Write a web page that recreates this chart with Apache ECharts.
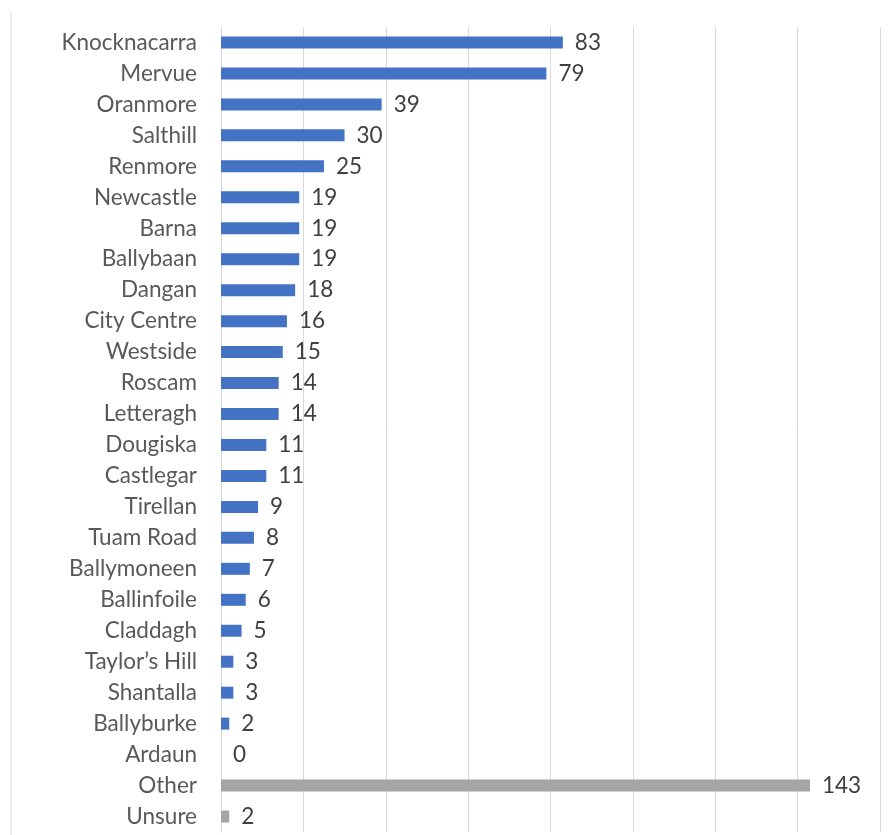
<!DOCTYPE html>
<html>
<head>
<meta charset="utf-8">
<script src="https://cdn.jsdelivr.net/npm/echarts@6/dist/echarts.min.js"></script>
<style>
  html, body { margin: 0; padding: 0; background: #ffffff; }
  #chart { width: 890px; height: 835px; }
</style>
</head>
<body>
<div id="chart"></div>
<script>
// Areas of Galway, in listed order (top to bottom)
const categories = [
  'Knocknacarra', 'Mervue', 'Oranmore', 'Salthill', 'Renmore', 'Newcastle',
  'Barna', 'Ballybaan', 'Dangan', 'City Centre', 'Westside', 'Roscam',
  'Letteragh', 'Dougiska', 'Castlegar', 'Tirellan', 'Tuam Road', 'Ballymoneen',
  'Ballinfoile', 'Claddagh', 'Taylor\u2019s Hill', 'Shantalla', 'Ballyburke',
  'Ardaun', 'Other', 'Unsure'
];
const counts = [
  83, 79, 39, 30, 25, 19,
  19, 19, 18, 16, 15, 14,
  14, 11, 11, 9, 8, 7,
  6, 5, 3, 3, 2,
  0, 143, 2
];
// Responses that are not a named area are shown in grey
const nonAreaCategories = ['Other', 'Unsure'];

const BLUE = '#4472C4';
const GREY = '#A5A5A5';

const seriesData = categories.map((name, i) => ({
  value: counts[i],
  itemStyle: { color: nonAreaCategories.includes(name) ? GREY : BLUE }
}));

const chart = echarts.init(document.getElementById('chart'), null, { renderer: 'canvas' });
chart.setOption({
  animation: false,
  backgroundColor: '#ffffff',
  grid: { left: 221, right: 10, top: 27, bottom: 3, containLabel: false },
  xAxis: {
    type: 'value',
    min: 0,
    max: 160,
    interval: 20,
    axisLabel: { show: false },
    axisLine: { show: false },
    axisTick: { show: false },
    splitLine: { show: true, lineStyle: { color: '#D9D9D9', width: 1 } }
  },
  yAxis: {
    type: 'category',
    data: categories,
    inverse: true,
    axisLine: { show: true, lineStyle: { color: '#D9D9D9', width: 1 } },
    axisTick: { show: false },
    axisLabel: {
      margin: 24,
      color: '#595959',
      fontFamily: 'Lato',
      fontSize: 22.5
    }
  },
  graphic: [{
    type: 'line',
    shape: { x1: 11, y1: 12, x2: 11, y2: 835 },
    style: { stroke: '#D9D9D9', lineWidth: 1 },
    silent: true
  }],
  series: [{
    type: 'bar',
    data: seriesData,
    barWidth: 12,
    label: {
      show: true,
      position: 'right',
      distance: 12,
      color: '#404040',
      fontFamily: 'Lato',
      fontSize: 22.5
    }
  }]
});
</script>
</body>
</html>
